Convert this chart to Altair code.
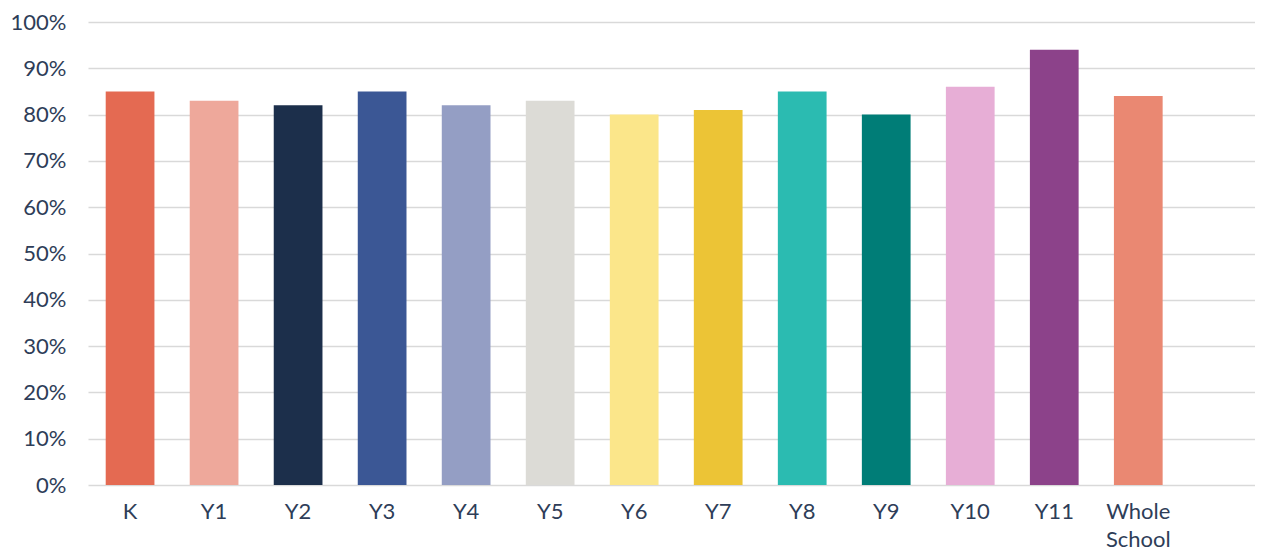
import altair as alt
import pandas as pd

categories = ["K", "Y1", "Y2", "Y3", "Y4", "Y5", "Y6", "Y7", "Y8", "Y9", "Y10", "Y11", "Whole School"]
values = [85, 83, 82, 85, 82, 83, 80, 81, 85, 80, 86, 94, 84]
colors = ["#E46A52", "#EEA89B", "#1C2F4B", "#3B5795", "#949EC4", "#DCDBD6",
          "#FBE68A", "#ECC436", "#2BBBB1", "#007D77", "#E7AED6", "#8C428A", "#EA8872"]
domain = categories + ["_"]

df = pd.DataFrame({"cat": categories, "val": [v / 100 for v in values]})

font = "Lato"
text_color = "#2E3D58"

chart = alt.Chart(df).mark_bar().encode(
    x=alt.X("cat:N", sort=domain,
            scale=alt.Scale(domain=domain, paddingInner=0.42, paddingOuter=0.155, align=0.68),
            axis=alt.Axis(title=None, labelAngle=0, ticks=False, domain=False,
                          labelFont=font, labelFontSize=22, labelColor=text_color,
                          labelPadding=16, labelLineHeight=28,
                          labelExpr="datum.label == '_' ? '' : split(datum.label, ' ')")),
    y=alt.Y("val:Q", scale=alt.Scale(domain=[0, 1], nice=False),
            axis=alt.Axis(title=None, format=".0%", values=[i / 10 for i in range(11)],
                          ticks=False, domain=False, grid=True,
                          gridColor="#D9D9D9", gridWidth=1.6,
                          labelFont=font, labelFontSize=22, labelColor=text_color,
                          labelPadding=22)),
    color=alt.Color("cat:N", scale=alt.Scale(domain=categories, range=colors), legend=None),
).properties(
    width=1167, height=463,
    padding={"left": 80, "top": 14, "right": 0, "bottom": 66},
    autosize=alt.AutoSizeParams(type="none"),
).configure_view(stroke=None)

chart.save("out.html", embed_options={"renderer": "svg", "actions": False})
